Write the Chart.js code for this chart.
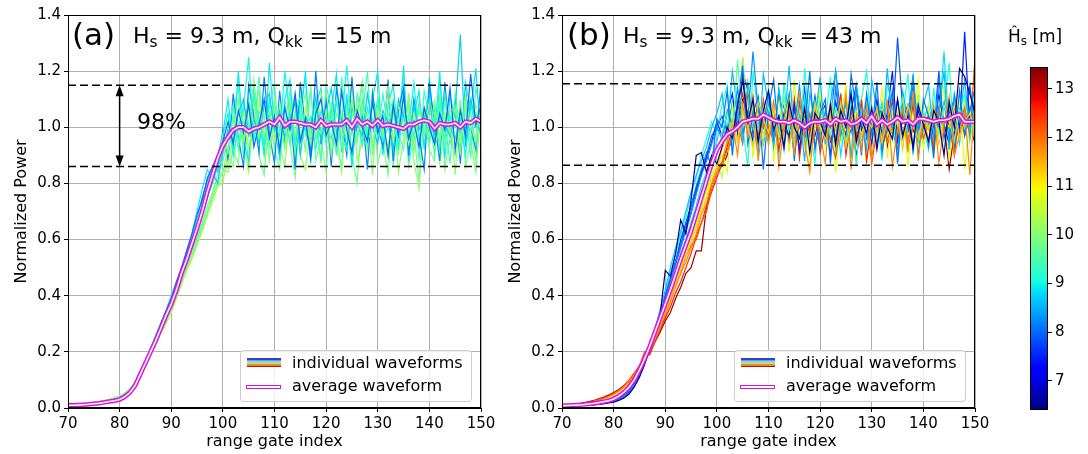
<!DOCTYPE html>
<html lang="en">
<head>
    <meta charset="UTF-8">
    <title>Normalized power waveforms</title>
    <script src="https://cdn.jsdelivr.net/npm/chart.js"></script>
    <style>
        body {
            margin: 0;
            width: 1088px;
            height: 454px;
            background: #fff;
            font-family: 'DejaVu Sans', sans-serif;
            color: #000;
            position: relative;
            overflow: hidden;
        }
        .wrap { position: absolute; top: 0; }
        .txt { position: absolute; line-height: 1; white-space: nowrap; }
        .txt sub { font-size: 0.7em; vertical-align: -0.28em; line-height: 0; }
        .legend {
            position: absolute;
            width: 230px;
            height: 50px;
            border: 1px solid #cccccc;
            border-radius: 4px;
            background: rgba(255, 255, 255, 0.8);
            font-size: 16px;
        }
        .legend .lbl { position: absolute; left: 51px; line-height: 1; white-space: nowrap; }
        .multi { position: absolute; left: 6px; top: 7px; width: 34px; }
        .multi div { height: 1.5px; }
        .avgbox {
            position: absolute; left: 5px; top: 34px; width: 33px; height: 2px;
            border: 1.5px solid #e010e0; background: #fff;
        }
    </style>
</head>
<body>
    <div class="wrap" style="left:0px"><canvas id="chartA" width="500" height="454"></canvas></div>
    <div class="wrap" style="left:494px"><canvas id="chartB" width="500" height="454"></canvas></div>
    <div class="wrap" style="left:1000px"><canvas id="chartC" width="88" height="454"></canvas></div>

    <!-- panel labels -->
    <div class="txt" style="left:72px; top:19px; font-size:31px;">(a)</div>
    <div class="txt" style="left:133px; top:25px; font-size:22px;">H<sub>s</sub> = 9.3 m, Q<sub>kk</sub> = 15 m</div>
    <div class="txt" style="left:137px; top:111px; font-size:22px;">98%</div>
    <div class="txt" style="left:567px; top:19px; font-size:31px;">(b)</div>
    <div class="txt" style="left:623px; top:25px; font-size:22px;">H<sub>s</sub> = 9.3 m, Q<sub>kk</sub> = 43 m</div>
    <div class="txt" style="left:1008px; top:28px; font-size:17px;">&#292;<sub>s</sub> [m]</div>

    <!-- legends -->
    <div class="legend" style="left:240px; top:350px;">
        <div class="multi"><div style="background:#3c3ccc"></div><div style="background:#5aa0f0"></div><div style="background:#7fe0d8"></div><div style="background:#e8d850"></div><div style="background:#f08a20"></div><div style="background:#a01818"></div></div>
        <div class="lbl" style="top:4px;">individual waveforms</div>
        <div class="avgbox"></div>
        <div class="lbl" style="top:27px;">average waveform</div>
    </div>
    <div class="legend" style="left:734px; top:350px;">
        <div class="multi"><div style="background:#3c3ccc"></div><div style="background:#5aa0f0"></div><div style="background:#7fe0d8"></div><div style="background:#e8d850"></div><div style="background:#f08a20"></div><div style="background:#a01818"></div></div>
        <div class="lbl" style="top:4px;">individual waveforms</div>
        <div class="avgbox"></div>
        <div class="lbl" style="top:27px;">average waveform</div>
    </div>

    <script>
        // range gates (x axis)
        const gates = [70,71,72,73,74,75,76,77,78,79,80,
            81,82,83,84,85,86,87,88,89,90,
            91,92,93,94,95,96,97,98,99,100,
            101,102,103,104,105,106,107,108,109,110,
            111,112,113,114,115,116,117,118,119,120,
            121,122,123,124,125,126,127,128,129,130,
            131,132,133,134,135,136,137,138,139,140,
            141,142,143,144,145,146,147,148,149,150];

        // colour scale of the waveforms (Hs estimate, m)
        const cbMin = 6.4;
        const cbMax = 13.45;
        const cbTicks = [7, 8, 9, 10, 11, 12, 13];

        // ---------- panel (a): Qkk = 15 m ----------
        const hsA = [8.0, 9.9, 8.7, 9.0, 9.3, 9.6, 10.0, 10.3, 8.2, 8.9, 9.4, 9.8, 10.1];
        const boundsA = [0.86, 1.15];
        const arrowGateA = 80;

        const avgA = [0.01,0.01,0.011,0.012,0.013,0.015,0.017,0.02,0.023,0.026,0.03,
            0.04,0.055,0.08,0.12,0.16,0.2,0.24,0.285,0.33,0.37,
            0.42,0.48,0.53,0.585,0.64,0.7,0.77,0.83,0.89,0.935,
            0.965,0.99,1.0,1.0,0.985,0.995,1.0,1.01,1.02,1.01,
            1.035,1.005,1.02,1.02,1.015,1.01,1.01,1.0,1.025,1.005,
            1.01,1.01,1.01,1.025,1.0,1.03,1.01,1.02,1.005,1.025,
            1.005,1.01,1.005,1.0,0.995,1.01,1.01,1.02,1.025,1.02,
            0.995,1.015,1.01,1.01,1.015,1.0,1.02,1.015,1.03,1.02];

        const waveA1 = [0.008,0.009,0.01,0.011,0.012,0.013,0.015,0.018,0.02,0.024,0.028,
            0.036,0.05,0.075,0.11,0.15,0.2,0.25,0.3,0.345,0.39,
            0.45,0.5,0.56,0.62,0.69,0.74,0.82,0.86,0.9,0.95,
            1.02,0.94,1.06,0.98,1.08,0.93,1.01,1.1,0.96,1.04,
            0.92,1.07,0.99,1.12,0.95,1.03,0.89,1.05,1.1,0.97,
            1.02,0.94,1.13,0.99,0.91,1.06,1.0,0.95,1.09,0.98,
            1.04,0.9,1.08,0.97,1.11,0.96,1.02,0.93,1.07,1.0,
            0.94,1.05,0.99,1.14,0.92,1.06,0.97,1.19,1.01,1.08];
        const waveA2 = [0.009,0.01,0.01,0.011,0.013,0.014,0.016,0.019,0.022,0.025,0.03,
            0.038,0.055,0.08,0.115,0.16,0.205,0.245,0.29,0.34,0.385,
            0.44,0.49,0.55,0.6,0.66,0.73,0.79,0.85,0.88,0.97,
            0.91,1.04,1.0,0.95,1.09,1.01,0.96,1.05,0.88,1.07,
            1.0,0.93,1.1,0.97,1.04,1.12,0.94,1.0,0.98,1.06,
            0.9,1.05,1.01,0.96,1.1,0.95,1.07,1.03,0.92,1.08,
            0.97,1.15,0.95,1.02,0.99,1.08,0.91,1.06,1.0,0.97,
            1.09,0.95,1.04,0.98,1.07,0.9,1.12,1.0,0.96,1.1];
        const waveA3 = [0.01,0.01,0.011,0.012,0.013,0.015,0.018,0.021,0.024,0.028,0.034,
            0.044,0.06,0.085,0.125,0.17,0.21,0.255,0.3,0.345,0.39,
            0.43,0.49,0.545,0.6,0.65,0.72,0.78,0.84,0.8,0.92,
            0.99,0.95,1.05,1.1,0.97,1.03,0.94,1.08,1.12,0.99,
            1.06,0.96,1.02,1.09,0.9,1.04,1.0,1.11,0.95,1.05,
            1.14,0.98,1.03,0.93,1.07,1.01,0.97,1.12,1.0,0.94,
            1.06,1.02,0.92,1.1,1.04,0.96,1.08,0.99,1.03,1.11,
            0.95,1.04,1.01,0.97,1.06,1.33,0.93,1.1,1.02,0.98];
        const waveA4 = [0.01,0.011,0.011,0.012,0.014,0.016,0.019,0.022,0.026,0.03,0.036,
            0.046,0.062,0.09,0.13,0.17,0.215,0.26,0.305,0.35,0.4,
            0.45,0.5,0.55,0.61,0.67,0.73,0.8,0.86,0.84,0.97,
            1.05,0.9,1.0,1.07,1.25,0.96,1.02,0.94,1.1,1.0,
            0.97,1.2,1.03,0.95,1.08,0.99,1.04,0.92,1.06,1.0,
            0.96,1.09,1.01,1.22,0.98,1.03,0.94,1.07,1.0,1.1,
            0.95,1.0,1.08,0.93,1.05,1.0,1.16,0.96,1.02,0.98,
            1.07,0.92,1.12,1.0,0.96,1.03,0.9,1.08,1.0,1.05];
        const waveA5 = [0.01,0.011,0.012,0.013,0.015,0.017,0.02,0.023,0.027,0.032,0.038,
            0.048,0.065,0.09,0.125,0.165,0.205,0.25,0.29,0.335,0.38,
            0.43,0.48,0.53,0.58,0.64,0.69,0.75,0.8,0.86,0.9,
            1.0,1.08,0.95,1.02,0.98,1.13,1.0,0.93,1.04,1.07,
            0.99,1.03,0.94,1.05,1.11,0.97,1.02,1.08,0.96,1.0,
            1.05,0.91,1.04,1.0,1.08,0.95,1.1,0.98,1.03,0.97,
            1.12,0.99,1.01,0.94,1.06,1.03,0.97,1.09,1.0,0.95,
            1.02,1.08,0.96,1.04,1.0,0.98,1.11,0.95,1.05,1.0];
        const waveA6 = [0.011,0.012,0.012,0.014,0.016,0.018,0.021,0.025,0.029,0.034,0.04,
            0.05,0.066,0.088,0.12,0.16,0.195,0.24,0.28,0.32,0.36,
            0.41,0.46,0.51,0.56,0.61,0.66,0.72,0.77,0.83,0.88,
            0.96,1.03,0.92,1.09,1.0,0.97,1.06,1.01,0.93,1.08,
            1.02,0.98,1.07,0.91,1.04,1.0,1.13,0.96,1.03,0.99,
            1.08,1.0,0.93,1.05,1.02,0.97,1.06,0.94,1.09,1.01,
            0.96,1.04,1.1,0.98,0.92,1.05,1.01,1.07,0.97,1.03,
            0.99,1.06,0.93,1.02,1.08,0.97,1.0,1.05,0.94,1.07];
        const waveA7 = [0.011,0.012,0.013,0.014,0.016,0.019,0.022,0.026,0.03,0.035,0.042,
            0.052,0.068,0.09,0.12,0.155,0.19,0.23,0.27,0.31,0.35,
            0.4,0.45,0.5,0.54,0.59,0.64,0.7,0.76,0.81,0.84,
            0.93,0.98,1.1,0.95,1.02,1.17,0.94,1.0,1.06,0.98,
            1.05,0.92,1.01,1.1,0.97,1.03,0.95,1.08,1.0,0.96,
            1.03,1.1,0.97,0.92,1.05,1.01,1.16,0.98,0.95,1.04,
            1.0,0.93,1.06,1.02,0.97,1.11,0.94,1.0,1.05,0.98,
            1.04,0.97,1.09,0.95,1.02,1.06,0.96,1.01,1.08,0.99];
        const waveA8 = [0.012,0.013,0.013,0.015,0.017,0.02,0.023,0.027,0.031,0.036,0.043,
            0.053,0.07,0.092,0.12,0.15,0.185,0.225,0.265,0.3,0.34,
            0.39,0.44,0.49,0.53,0.58,0.63,0.69,0.74,0.79,0.82,
            0.87,0.96,0.99,1.05,0.93,1.01,1.09,0.97,1.03,0.95,
            1.08,1.0,0.96,1.04,0.92,1.07,1.01,0.98,1.12,0.96,
            1.02,0.94,1.06,1.0,0.97,1.09,0.93,1.04,1.0,1.06,
            0.98,1.03,0.95,1.08,1.01,0.94,1.05,1.0,0.97,1.1,
            0.93,1.02,1.05,0.97,1.01,0.95,1.08,1.0,0.96,1.03];
        const waveA9 = [0.009,0.009,0.01,0.011,0.012,0.014,0.016,0.018,0.021,0.025,0.029,
            0.037,0.052,0.078,0.112,0.155,0.2,0.25,0.295,0.34,0.385,
            0.44,0.5,0.555,0.61,0.67,0.75,0.81,0.86,0.84,0.99,
            0.88,1.12,0.96,0.86,1.15,1.04,0.91,1.18,0.98,0.87,
            1.13,0.95,1.07,0.85,1.16,1.0,0.92,1.2,0.94,1.09,
            0.86,1.14,1.02,0.9,1.18,0.96,1.05,0.85,1.12,1.0,
            0.93,1.17,0.88,1.06,1.14,0.9,1.1,0.97,0.85,1.15,
            1.02,0.88,1.16,0.95,1.08,0.87,1.13,1.0,0.92,1.17];
        const waveA10 = [0.01,0.01,0.011,0.012,0.014,0.016,0.018,0.021,0.025,0.03,0.035,
            0.045,0.061,0.087,0.128,0.17,0.21,0.255,0.3,0.345,0.39,
            0.44,0.5,0.56,0.62,0.7,0.78,0.85,0.82,0.9,0.98,
            1.1,0.92,1.2,0.95,0.88,1.14,1.03,0.9,1.23,1.0,
            0.89,1.1,1.17,0.93,1.02,1.2,0.87,1.08,1.14,0.94,
            1.06,1.19,0.91,1.12,0.86,1.04,1.16,0.95,1.1,1.2,
            0.9,1.08,1.15,0.96,1.22,0.88,1.05,1.13,0.92,1.18,
            0.97,1.2,0.89,1.11,1.04,0.92,1.16,1.06,1.21,0.95];
        const waveA11 = [0.01,0.011,0.012,0.013,0.015,0.017,0.02,0.023,0.027,0.032,0.038,
            0.048,0.064,0.088,0.124,0.165,0.205,0.248,0.29,0.335,0.38,
            0.43,0.48,0.535,0.585,0.64,0.7,0.76,0.82,0.87,0.93,
            0.9,1.05,1.15,0.89,1.1,0.96,1.18,0.92,1.07,1.16,
            0.9,1.01,1.13,0.86,1.09,1.17,0.95,1.03,0.88,1.15,
            1.06,0.9,1.18,1.0,0.87,1.12,1.04,1.2,0.9,1.08,
            0.97,1.14,0.86,1.05,1.17,0.93,1.1,0.88,1.13,1.04,
            0.9,1.16,1.02,0.87,1.12,0.98,1.07,0.89,1.14,1.05];
        const waveA12 = [0.011,0.012,0.013,0.014,0.016,0.018,0.021,0.025,0.029,0.034,0.041,
            0.051,0.067,0.089,0.12,0.157,0.195,0.235,0.275,0.315,0.355,
            0.405,0.455,0.505,0.55,0.6,0.65,0.7,0.75,0.8,0.85,
            0.84,0.92,0.87,1.08,0.86,1.12,0.9,0.83,1.05,0.92,
            0.85,1.1,0.94,0.82,1.06,0.91,1.15,0.88,0.96,0.84,
            1.09,0.93,0.86,1.11,0.9,0.8,1.04,0.92,1.14,0.87,
            0.95,0.83,1.08,0.9,1.13,0.86,0.98,0.81,1.06,0.92,
            0.88,1.12,0.85,0.97,0.9,1.1,0.86,0.95,0.84,1.06];
        const waveA13 = [0.011,0.012,0.013,0.015,0.017,0.019,0.022,0.026,0.03,0.035,0.042,
            0.052,0.069,0.091,0.12,0.153,0.188,0.228,0.268,0.305,0.345,
            0.395,0.445,0.49,0.535,0.585,0.63,0.685,0.74,0.79,0.8,
            0.91,0.86,1.02,0.94,0.84,1.06,1.13,0.89,0.97,1.1,
            0.94,0.86,1.05,1.12,0.9,0.85,1.0,1.09,0.87,1.14,
            0.9,0.98,0.84,1.07,1.15,0.88,0.95,1.04,0.83,1.11,
            0.99,0.89,1.07,0.84,0.96,1.12,0.88,0.78,1.05,0.93,
            1.1,0.87,0.98,1.06,0.83,1.09,0.94,1.0,0.88,1.13];
        const wavesA = [waveA1, waveA2, waveA3, waveA4, waveA5, waveA6, waveA7, waveA8,
            waveA9, waveA10, waveA11, waveA12, waveA13];

        // ---------- panel (b): Qkk = 43 m ----------
        const hsB = [6.5, 7.5, 7.9, 8.3, 8.8, 9.6, 10.5, 11.3, 12.2, 13.3, 8.6, 9.1, 8.1, 10.8, 11.8, 12.6];
        const boundsB = [0.865, 1.155];

        const avgB = [0.008,0.009,0.01,0.011,0.012,0.014,0.016,0.019,0.022,0.026,0.032,
            0.042,0.056,0.075,0.1,0.135,0.175,0.22,0.27,0.32,0.37,
            0.42,0.475,0.53,0.58,0.63,0.69,0.75,0.81,0.87,0.92,
            0.95,0.975,0.985,1.0,1.02,1.025,1.03,1.03,1.045,1.035,
            1.025,1.02,1.02,1.015,1.025,1.015,1.0,1.015,1.02,1.02,
            1.025,1.01,1.03,1.02,1.025,1.01,1.015,1.03,1.015,1.04,
            1.01,1.025,1.01,1.02,1.035,1.02,1.025,1.01,1.03,1.03,
            1.025,1.02,1.025,1.025,1.03,1.04,1.045,1.02,1.02,1.02];

        const waveB1 = [0.006,0.006,0.007,0.008,0.009,0.01,0.011,0.013,0.015,0.018,0.021,
            0.027,0.036,0.05,0.075,0.11,0.155,0.21,0.27,0.33,0.49,
            0.47,0.55,0.67,0.62,0.74,0.9,0.91,0.84,0.9,0.87,
            0.93,1.0,0.96,1.08,1.17,1.02,1.1,0.95,1.06,1.13,
            0.99,1.04,0.93,1.09,1.0,0.96,1.07,0.91,1.05,1.02,
            0.97,1.08,0.94,1.06,1.0,1.12,0.95,1.03,0.98,1.07,
            0.92,1.05,1.0,0.96,1.1,0.97,1.04,0.93,1.08,1.01,
            0.95,1.06,1.02,0.9,1.09,1.0,1.21,1.18,1.12,1.05];
        const waveB2 = [0.006,0.007,0.007,0.008,0.009,0.01,0.012,0.014,0.016,0.019,0.023,
            0.03,0.04,0.056,0.08,0.115,0.16,0.21,0.27,0.33,0.4,
            0.46,0.52,0.6,0.66,0.72,0.78,0.84,0.89,0.95,1.02,
            0.97,1.05,1.12,0.98,1.18,1.03,0.95,1.1,1.0,1.07,
            0.94,1.13,1.01,0.97,1.08,0.92,1.05,1.0,1.11,0.96,
            1.04,0.9,1.09,1.02,0.97,1.06,1.15,0.99,1.03,0.94,
            1.1,0.97,1.05,1.2,0.95,1.03,1.08,0.92,1.06,1.0,
            1.04,0.97,1.12,1.01,0.94,1.08,1.0,1.34,0.99,1.1];
        const waveB3 = [0.007,0.007,0.008,0.009,0.01,0.011,0.013,0.015,0.018,0.021,0.025,
            0.033,0.045,0.062,0.09,0.125,0.17,0.22,0.28,0.34,0.4,
            0.46,0.52,0.58,0.64,0.7,0.77,0.83,0.9,0.97,1.0,
            1.04,0.98,1.09,1.02,1.2,1.13,0.97,1.05,1.0,1.1,
            0.95,1.03,1.08,0.93,1.06,1.0,1.14,0.97,1.04,1.09,
            0.98,1.02,1.2,1.05,0.94,1.07,1.0,1.1,0.96,1.03,
            1.08,0.95,1.04,1.0,1.32,1.06,0.97,1.11,1.02,0.94,
            1.07,1.0,1.2,0.96,1.05,1.1,0.98,1.03,1.15,1.0];
        const waveB4 = [0.007,0.008,0.008,0.009,0.01,0.012,0.014,0.016,0.019,0.022,0.027,
            0.035,0.047,0.065,0.092,0.128,0.17,0.22,0.275,0.33,0.39,
            0.45,0.51,0.57,0.63,0.69,0.76,0.83,0.88,0.94,1.0,
            0.96,1.06,1.01,1.14,0.98,1.03,1.27,1.06,1.0,1.12,
            0.97,1.04,0.92,1.08,1.0,1.15,0.96,1.02,1.1,0.93,
            1.06,1.0,0.95,1.09,1.03,0.98,1.13,0.96,1.05,1.01,
            0.94,1.07,1.02,0.98,1.1,0.96,1.04,1.18,0.99,1.06,
            0.93,1.05,1.0,1.09,0.96,1.12,1.02,0.98,1.07,1.03];
        const waveB5 = [0.007,0.008,0.009,0.01,0.011,0.012,0.014,0.017,0.02,0.024,0.029,
            0.038,0.05,0.068,0.095,0.13,0.17,0.215,0.265,0.32,0.375,
            0.43,0.49,0.55,0.6,0.66,0.72,0.79,0.84,0.9,0.95,
            1.02,0.94,1.08,1.0,1.25,0.97,1.06,1.01,1.09,0.95,
            1.04,1.0,0.93,1.07,1.02,0.96,1.1,0.99,1.05,1.13,
            0.95,1.02,1.07,0.9,1.04,1.08,0.97,1.01,1.11,0.96,
            1.03,1.09,0.98,1.04,0.92,1.06,1.0,1.1,0.97,1.02,
            1.08,0.95,1.03,1.27,0.98,1.05,0.94,1.09,1.01,0.96];
        const waveB6 = [0.008,0.008,0.009,0.01,0.011,0.013,0.015,0.018,0.021,0.025,0.031,
            0.04,0.053,0.072,0.098,0.13,0.17,0.212,0.26,0.31,0.36,
            0.41,0.47,0.52,0.58,0.63,0.69,0.75,0.8,0.86,0.9,
            0.98,1.05,0.96,1.24,1.02,0.99,1.08,1.0,0.94,1.07,
            1.02,0.97,1.11,1.0,0.95,1.06,1.03,0.92,1.09,1.0,
            1.04,0.97,1.07,1.01,0.94,1.1,1.0,0.96,1.05,1.02,
            0.98,1.07,1.0,0.95,1.04,1.1,0.97,1.02,0.93,1.06,
            1.0,1.04,0.97,1.08,1.02,0.95,1.06,1.0,1.03,0.97];
        const waveB7 = [0.008,0.009,0.01,0.011,0.012,0.014,0.017,0.02,0.024,0.029,0.036,
            0.046,0.06,0.08,0.105,0.135,0.17,0.21,0.255,0.3,0.35,
            0.4,0.45,0.5,0.56,0.61,0.66,0.72,0.78,0.83,0.88,
            0.82,0.96,1.03,0.98,1.25,1.01,0.95,1.07,1.0,0.97,
            1.05,1.1,0.96,1.02,0.99,1.08,0.93,1.04,1.0,1.06,
            0.97,1.02,1.09,0.95,1.03,1.0,1.12,0.98,1.05,0.94,
            1.06,1.01,0.96,1.09,1.02,0.97,1.04,1.0,1.11,0.95,
            1.03,0.98,1.07,1.0,0.94,1.05,1.02,1.09,0.97,1.04];
        const waveB8 = [0.009,0.01,0.011,0.012,0.014,0.016,0.019,0.023,0.028,0.034,0.042,
            0.053,0.068,0.088,0.112,0.14,0.175,0.215,0.255,0.3,0.345,
            0.39,0.44,0.49,0.54,0.59,0.64,0.7,0.75,0.81,0.85,
            0.92,0.97,1.02,0.95,1.06,1.0,0.93,1.09,1.03,0.98,
            1.07,0.96,1.02,1.1,0.97,1.01,1.05,0.94,1.08,1.0,
            0.96,1.04,0.99,1.09,0.93,1.02,1.06,0.97,1.03,1.0,
            1.07,0.95,1.02,0.98,1.05,0.92,1.08,1.01,0.96,1.04,
            0.99,1.06,0.94,1.03,1.0,1.08,0.96,1.02,1.05,0.98];
        const waveB9 = [0.01,0.011,0.012,0.014,0.016,0.019,0.023,0.028,0.034,0.041,0.05,
            0.062,0.078,0.1,0.125,0.15,0.2,0.2,0.24,0.28,0.33,
            0.38,0.44,0.48,0.54,0.58,0.6,0.66,0.7,0.78,0.84,
            0.87,0.92,0.96,1.02,0.94,1.12,1.05,0.97,1.1,1.0,
            0.95,1.03,0.98,1.06,0.9,1.02,0.97,1.05,0.93,1.0,
            1.04,0.96,0.89,1.01,0.98,1.06,0.94,1.0,1.03,0.87,
            0.99,1.05,0.95,1.02,0.97,1.08,0.93,1.0,1.04,0.96,
            1.01,0.94,1.06,0.98,1.03,0.95,1.0,1.07,0.97,1.25];
        const waveB10 = [0.011,0.012,0.013,0.015,0.018,0.022,0.026,0.032,0.038,0.046,0.055,
            0.066,0.08,0.095,0.115,0.14,0.17,0.2,0.235,0.27,0.31,
            0.34,0.39,0.43,0.48,0.5,0.56,0.56,0.72,0.8,0.86,
            0.86,0.9,0.97,1.03,1.1,1.05,1.08,1.0,0.94,1.07,
            1.02,0.96,1.05,0.99,1.03,0.93,1.06,1.0,0.97,1.04,
            1.08,0.95,1.01,0.97,1.1,1.03,0.9,1.0,1.05,0.96,
            1.02,1.07,0.93,1.0,1.04,0.97,1.06,0.99,0.95,1.03,
            1.0,0.96,1.04,1.01,0.85,0.98,1.05,1.0,1.02,0.94];
        const waveB11 = [0.006,0.006,0.007,0.008,0.009,0.01,0.012,0.014,0.016,0.019,0.022,
            0.028,0.038,0.053,0.078,0.112,0.16,0.215,0.28,0.35,0.42,
            0.5,0.57,0.63,0.7,0.77,0.83,0.88,0.93,1.0,1.05,
            1.12,0.98,1.2,1.06,0.95,1.16,1.02,0.9,1.19,1.08,
            0.93,1.14,1.0,1.22,0.96,1.05,0.88,1.12,1.03,1.18,
            0.94,1.09,1.2,0.97,1.1,0.89,1.15,1.04,0.92,1.17,
            1.06,0.95,1.21,1.0,0.9,1.13,1.02,1.19,0.94,1.08,
            1.15,0.97,1.05,1.2,0.92,1.1,1.03,1.17,0.98,1.12];
        const waveB12 = [0.006,0.007,0.008,0.009,0.01,0.011,0.013,0.015,0.017,0.02,0.024,
            0.031,0.042,0.058,0.083,0.118,0.165,0.218,0.278,0.34,0.41,
            0.48,0.55,0.62,0.68,0.76,0.82,0.9,0.96,1.02,0.98,
            1.08,1.15,0.93,1.1,1.0,0.86,1.2,1.04,0.96,1.13,
            1.05,0.89,1.16,0.98,1.1,0.92,1.21,1.0,0.87,1.12,
            1.02,1.18,0.9,1.07,0.95,1.14,0.86,1.1,1.2,0.97,
            1.04,0.88,1.15,1.09,0.93,1.03,1.19,0.9,1.1,1.0,
            0.92,1.14,0.98,1.07,1.23,0.91,1.05,1.12,0.95,1.09];
        const waveB13 = [0.007,0.007,0.008,0.009,0.011,0.012,0.014,0.016,0.019,0.022,0.026,
            0.034,0.046,0.063,0.09,0.126,0.17,0.22,0.275,0.335,0.395,
            0.46,0.52,0.585,0.65,0.72,0.79,0.85,0.91,0.86,1.03,
            1.0,1.13,0.9,1.08,1.22,0.94,1.05,1.11,0.85,1.06,
            1.17,0.96,1.02,1.12,0.88,1.09,1.0,1.2,0.92,1.05,
            1.1,0.87,1.14,1.01,0.93,1.19,1.06,0.9,1.12,0.98,
            1.16,0.91,1.03,1.13,0.87,1.08,0.99,1.15,0.9,1.1,
            1.04,0.89,1.18,1.0,1.09,0.93,1.13,0.97,1.06,1.14];
        const waveB14 = [0.009,0.01,0.011,0.012,0.013,0.015,0.018,0.022,0.026,0.031,0.038,
            0.048,0.063,0.083,0.108,0.138,0.172,0.212,0.255,0.3,0.345,
            0.395,0.445,0.495,0.55,0.6,0.65,0.71,0.77,0.82,0.86,
            0.9,0.84,1.08,0.95,1.01,1.14,0.89,1.05,0.96,1.12,
            0.88,1.03,1.1,0.91,1.17,0.95,1.06,0.86,1.0,1.13,
            0.93,1.08,0.84,1.04,1.15,0.9,1.02,1.1,0.87,1.06,
            1.0,1.14,0.89,1.05,0.94,1.12,0.86,1.03,1.17,0.92,
            1.08,0.9,1.01,1.15,0.88,1.04,1.1,0.85,1.02,1.07];
        const waveB15 = [0.009,0.01,0.011,0.013,0.015,0.018,0.022,0.027,0.033,0.04,0.049,
            0.06,0.075,0.095,0.118,0.145,0.178,0.212,0.25,0.29,0.335,
            0.38,0.43,0.48,0.52,0.57,0.62,0.69,0.73,0.8,0.85,
            0.88,0.95,1.02,0.9,1.08,0.97,1.12,0.88,1.03,0.94,
            1.1,0.86,1.0,1.06,0.9,1.13,0.95,0.84,1.05,0.98,
            0.87,1.09,0.93,1.0,1.12,0.85,1.04,0.92,1.08,0.89,
            1.02,0.94,1.1,0.86,1.0,1.07,0.91,1.13,0.88,1.04,
            0.95,1.08,0.87,1.01,1.11,0.9,0.97,1.06,0.83,1.1];
        const waveB16 = [0.01,0.011,0.012,0.014,0.017,0.02,0.025,0.03,0.036,0.044,0.053,
            0.064,0.078,0.098,0.122,0.15,0.185,0.19,0.235,0.28,0.32,
            0.36,0.41,0.45,0.5,0.55,0.61,0.66,0.72,0.77,0.82,
            0.87,0.93,0.99,1.06,1.12,1.0,1.1,0.94,1.05,0.97,
            1.08,0.92,1.02,0.96,1.1,0.89,1.04,0.98,1.06,0.91,
            1.0,1.07,0.95,1.12,0.9,1.03,0.97,1.09,0.88,1.01,
            1.05,0.93,0.99,1.1,0.91,1.04,0.96,1.08,0.94,1.0,
            1.03,0.92,1.07,0.98,1.02,0.9,1.06,0.97,1.04,1.0];
        const wavesB = [waveB1, waveB2, waveB3, waveB4, waveB5, waveB6, waveB7, waveB8,
            waveB9, waveB10, waveB11, waveB12, waveB13, waveB14, waveB15, waveB16];

        // matplotlib "jet" colour map
        function jet(t) {
            t = Math.max(0, Math.min(1, t));
            const seg = (pts) => {
                for (let i = 1; i < pts.length; i++) {
                    if (t <= pts[i][0]) {
                        const [x0, y0] = pts[i - 1], [x1, y1] = pts[i];
                        return y0 + (y1 - y0) * (t - x0) / (x1 - x0);
                    }
                }
                return pts[pts.length - 1][1];
            };
            const r = seg([[0, 0], [0.35, 0], [0.66, 1], [0.89, 1], [1, 0.5]]);
            const g = seg([[0, 0], [0.125, 0], [0.375, 1], [0.64, 1], [0.91, 0], [1, 0]]);
            const b = seg([[0, 0.5], [0.11, 1], [0.34, 1], [0.65, 0], [1, 0]]);
            return `rgb(${Math.round(r * 255)},${Math.round(g * 255)},${Math.round(b * 255)})`;
        }
        const hsColor = hs => jet((hs - cbMin) / (cbMax - cbMin));
        const points = arr => gates.map((g, i) => ({ x: g, y: arr[i] }));

        // stride shuffles the stacking so colours end up interleaved
        function buildDatasets(waves, hs, avg, bounds, stride) {
            const ds = [];
            bounds.forEach(b => ds.push({
                data: [{ x: gates[0], y: b }, { x: gates[gates.length - 1], y: b }],
                borderColor: '#000', borderWidth: 1.5, borderDash: [8, 4], order: 0
            }));
            ds.push({ data: points(avg), borderColor: '#ffffff', borderWidth: 1.5, order: 1 });
            ds.push({ data: points(avg), borderColor: '#e010e0', borderWidth: 4.5, order: 2 });
            waves.forEach((w, i) => ds.push({
                data: points(w), borderColor: hsColor(hs[i]), borderWidth: 1.2,
                order: 3 + (i * stride) % waves.length
            }));
            return ds;
        }

        const tickFont = { family: 'DejaVu Sans', size: 15 };
        const titleFont = { family: 'DejaVu Sans', size: 16 };

        // spines around the plot area
        const framePlugin = {
            id: 'frame',
            afterDraw(chart) {
                const { ctx, chartArea: a } = chart;
                ctx.save();
                ctx.strokeStyle = '#000';
                ctx.lineWidth = 1;
                ctx.strokeRect(a.left + 0.5, a.top + 0.5, a.right - a.left - 1, a.bottom - a.top - 1);
                ctx.restore();
            }
        };

        // double-headed arrow spanning the bounds in panel (a)
        const arrowPlugin = {
            id: 'arrow',
            afterDatasetsDraw(chart) {
                const { ctx } = chart;
                const x = chart.scales.x.getPixelForValue(arrowGateA);
                const yTop = chart.scales.y.getPixelForValue(boundsA[1]);
                const yBot = chart.scales.y.getPixelForValue(boundsA[0]);
                const hw = 4, hl = 11;
                ctx.save();
                ctx.strokeStyle = '#000';
                ctx.fillStyle = '#000';
                ctx.lineWidth = 1.5;
                ctx.beginPath();
                ctx.moveTo(x, yTop + hl - 2);
                ctx.lineTo(x, yBot - hl + 2);
                ctx.stroke();
                ctx.beginPath();
                ctx.moveTo(x, yTop); ctx.lineTo(x - hw, yTop + hl); ctx.lineTo(x + hw, yTop + hl); ctx.closePath();
                ctx.fill();
                ctx.beginPath();
                ctx.moveTo(x, yBot); ctx.lineTo(x - hw, yBot - hl); ctx.lineTo(x + hw, yBot - hl); ctx.closePath();
                ctx.fill();
                ctx.restore();
            }
        };

        function panelOptions() {
            return {
                responsive: false,
                animation: false,
                layout: { padding: { top: 15, right: 19, left: 0, bottom: 0 } },
                plugins: { legend: { display: false }, tooltip: { enabled: false } },
                elements: { point: { radius: 0 }, line: { tension: 0 } },
                scales: {
                    x: {
                        type: 'linear', min: 70, max: 150,
                        ticks: { stepSize: 10, color: '#000', font: tickFont, padding: 3 },
                        grid: { color: '#b0b0b0', tickColor: '#000', tickLength: 4 },
                        border: { color: '#000' },
                        title: { display: true, text: 'range gate index', color: '#000', font: titleFont, padding: { top: 0, bottom: 3 } },
                        afterFit: s => { s.height = 46; }
                    },
                    y: {
                        min: 0, max: 1.4,
                        ticks: { stepSize: 0.2, color: '#000', font: tickFont, padding: 3, callback: v => v.toFixed(1) },
                        grid: { color: '#b0b0b0', tickColor: '#000', tickLength: 4 },
                        border: { color: '#000' },
                        title: { display: true, text: 'Normalized Power', color: '#000', font: titleFont, padding: { top: 12, bottom: 0 } },
                        afterFit: s => { s.width = 68; }
                    }
                }
            };
        }

        new Chart(document.getElementById('chartA'), {
            type: 'line',
            data: { datasets: buildDatasets(wavesA, hsA, avgA, boundsA, 1) },
            options: panelOptions(),
            plugins: [framePlugin, arrowPlugin]
        });

        new Chart(document.getElementById('chartB'), {
            type: 'line',
            data: { datasets: buildDatasets(wavesB, hsB, avgB, boundsB, 7) },
            options: panelOptions(),
            plugins: [framePlugin]
        });

        // colour bar
        new Chart(document.getElementById('chartC'), {
            type: 'scatter',
            data: { datasets: [] },
            options: {
                responsive: false,
                animation: false,
                layout: { padding: { left: 30, top: 67, bottom: 44, right: 0 } },
                plugins: { legend: { display: false }, tooltip: { enabled: false } },
                scales: {
                    x: { display: false, min: 0, max: 1 },
                    y: {
                        position: 'right', min: cbMin, max: cbMax,
                        afterBuildTicks: s => { s.ticks = cbTicks.map(v => ({ value: v })); },
                        ticks: { color: '#000', font: tickFont, padding: 3 },
                        grid: { drawOnChartArea: false, tickColor: '#000', tickLength: 4 },
                        border: { display: false },
                        afterFit: s => { s.width = 40; }
                    }
                }
            },
            plugins: [{
                id: 'cbar',
                beforeDatasetsDraw(chart) {
                    const { ctx, chartArea: a } = chart;
                    const grad = ctx.createLinearGradient(0, a.bottom, 0, a.top);
                    for (let i = 0; i <= 64; i++) grad.addColorStop(i / 64, jet(i / 64));
                    ctx.save();
                    ctx.fillStyle = grad;
                    ctx.fillRect(a.left, a.top, a.right - a.left, a.bottom - a.top);
                    ctx.strokeStyle = '#000';
                    ctx.lineWidth = 1;
                    ctx.strokeRect(a.left + 0.5, a.top + 0.5, a.right - a.left - 1, a.bottom - a.top - 1);
                    ctx.restore();
                }
            }]
        });
    </script>
</body>
</html>
